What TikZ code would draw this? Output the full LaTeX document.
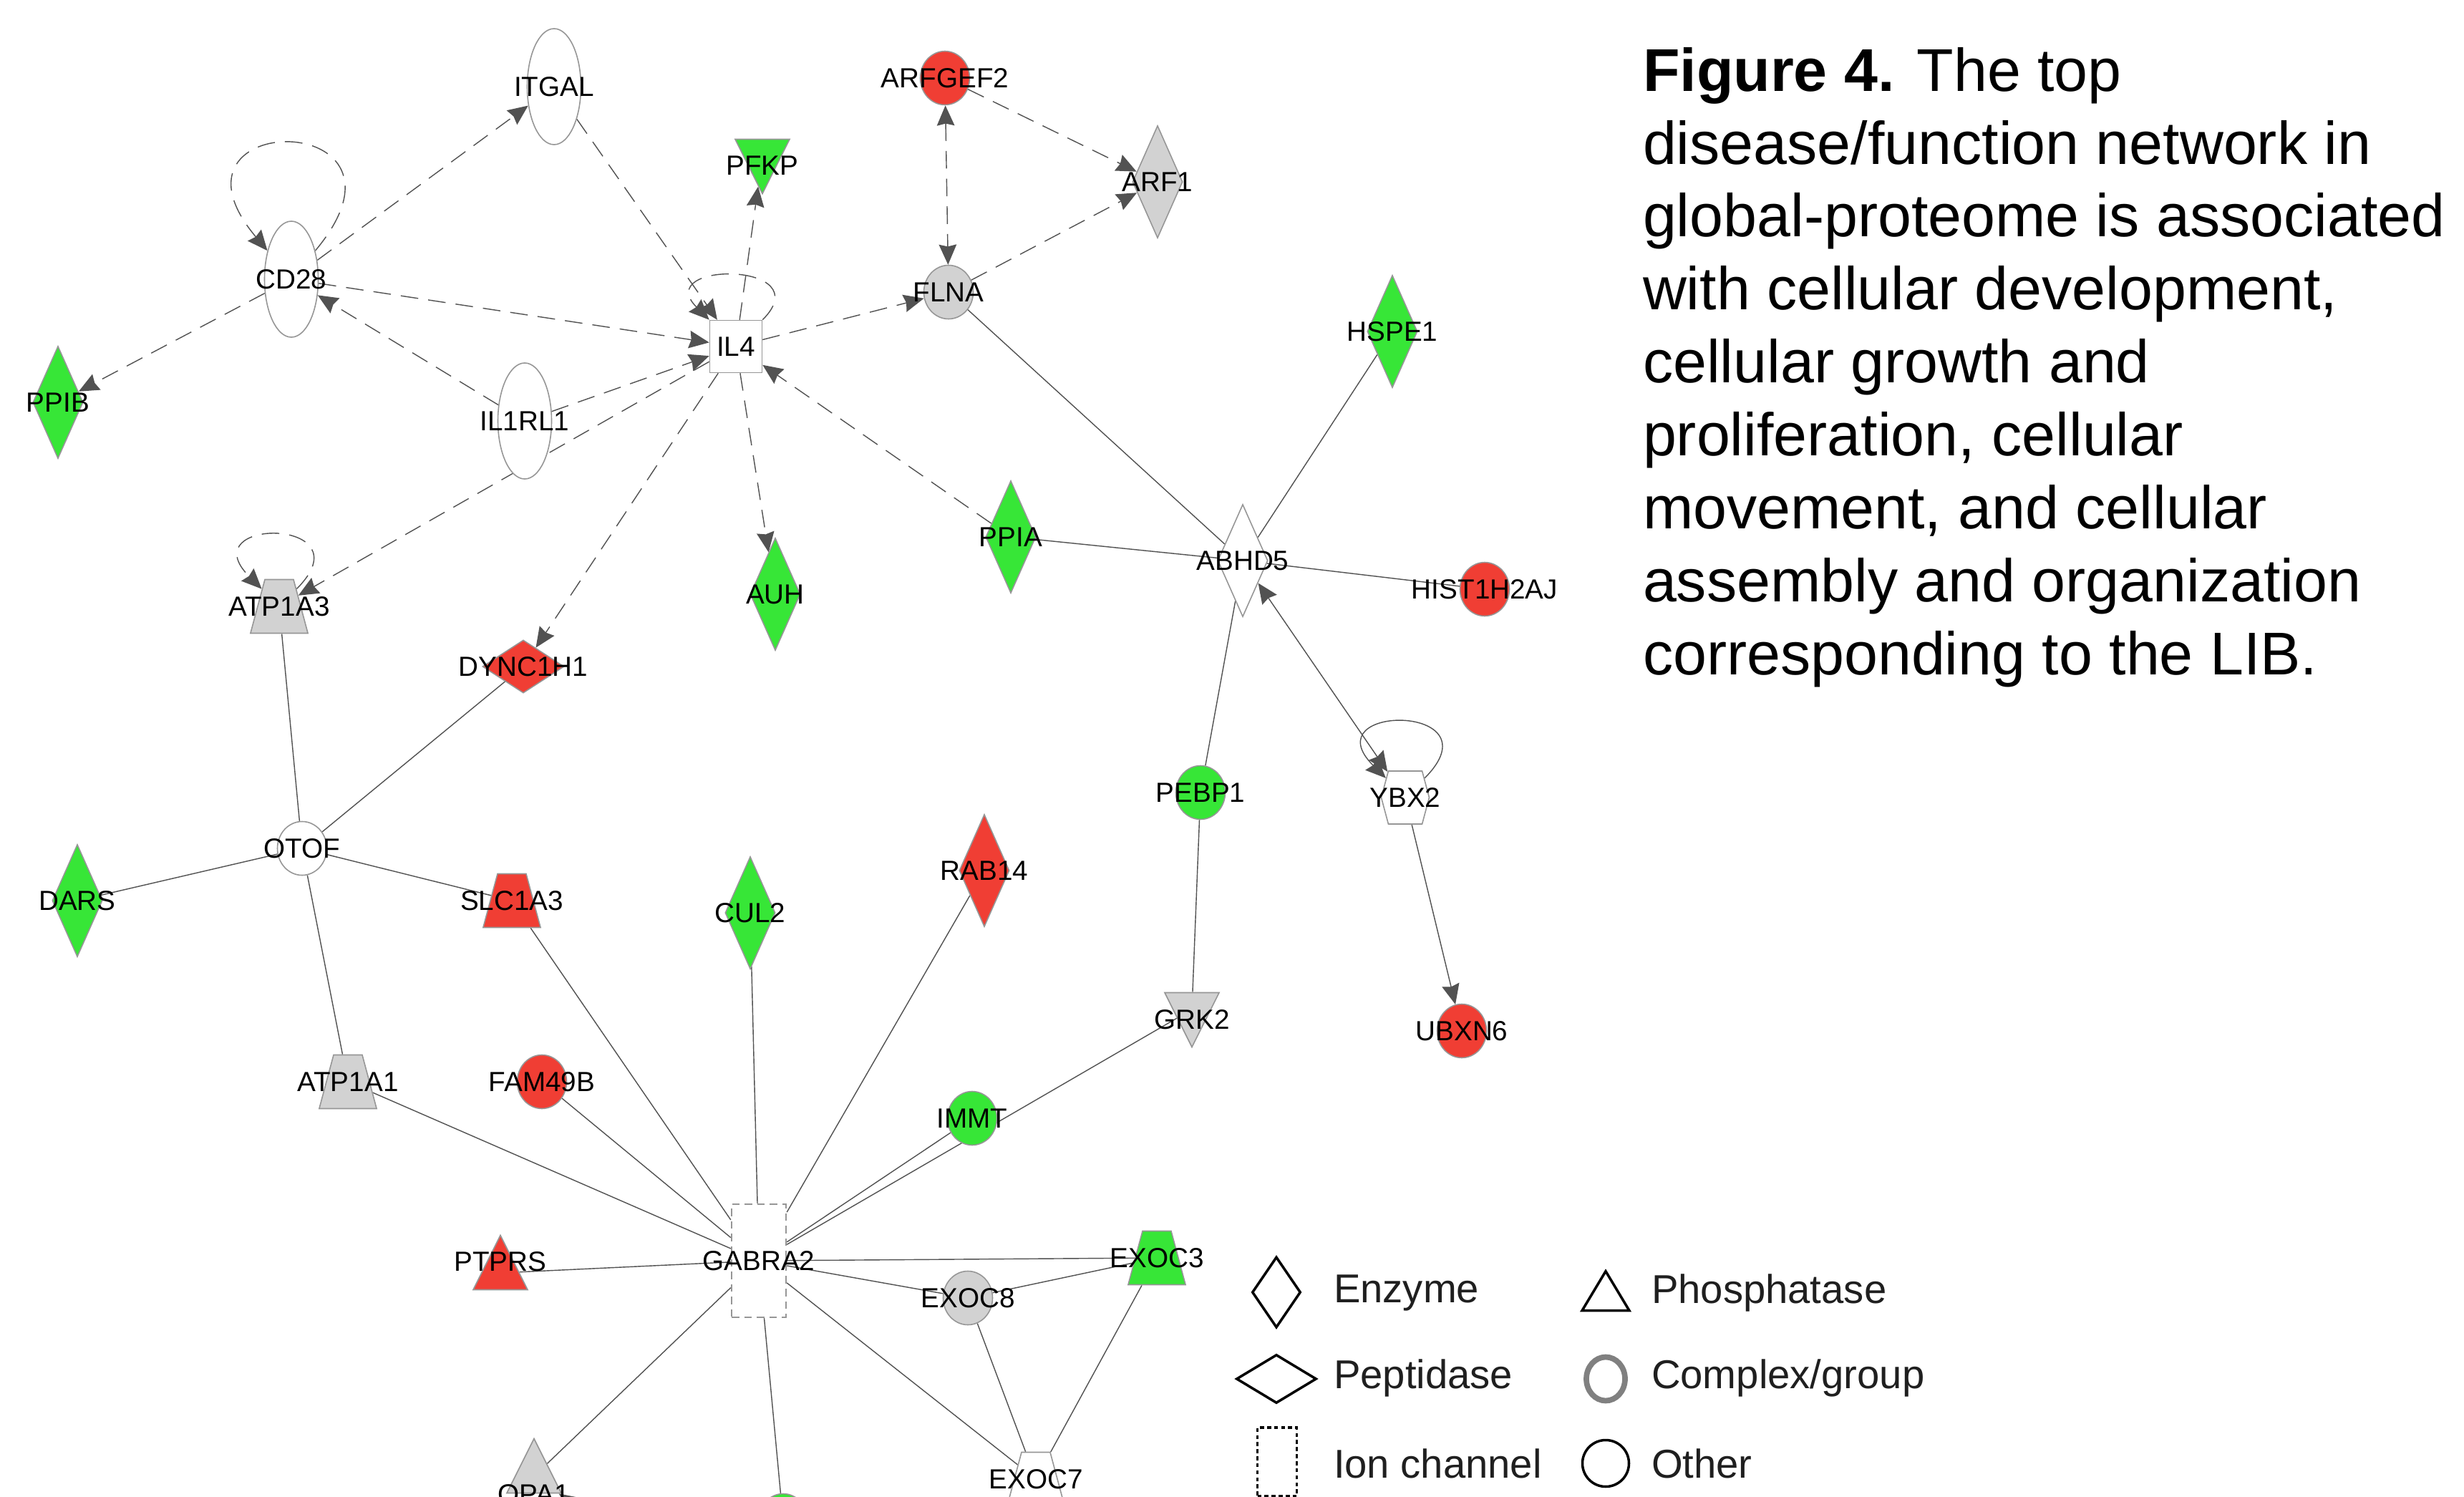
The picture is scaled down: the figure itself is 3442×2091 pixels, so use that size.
\documentclass[tikz,border=0pt]{standalone}
\usepackage{fontspec}
\setmainfont{Liberation Sans}
\usetikzlibrary{arrows.meta,shapes.geometric,shapes.symbols,backgrounds}
\definecolor{upred}{RGB}{240,62,52}
\definecolor{downgreen}{RGB}{55,230,55}
\definecolor{nogrey}{RGB}{210,210,210}
\definecolor{linegrey}{RGB}{82,82,82}
\definecolor{rimgrey}{RGB}{150,150,150}

\begin{document}
\begin{tikzpicture}[x=0.1mm,y=0.1mm,>={Stealth[length=8pt,width=7pt,inset=0.8pt]},line width=1.15pt]
\tikzstyle{every label}=[font=\fontsize{11}{13}\selectfont,inner sep=0pt,text=black]
\tikzstyle{mol}=[draw=rimgrey,line width=0.45pt,inner sep=0pt,fill=white]
\tikzstyle{enzyme}=[mol,diamond,minimum width=7mm,minimum height=15.7mm]
\tikzstyle{peptid}=[mol,diamond,minimum width=11.4mm,minimum height=7.4mm]
\tikzstyle{receptor}=[mol,ellipse,minimum width=7.5mm,minimum height=16.2mm]
\tikzstyle{other}=[mol,ellipse,minimum width=6.9mm,minimum height=7.5mm]
\tikzstyle{cyto}=[mol,rectangle,minimum width=7.3mm,minimum height=7.3mm]
\tikzstyle{ionch}=[mol,rectangle,dash pattern=on 3pt off 2pt,line width=0.7pt,minimum width=7.6mm,minimum height=15.8mm]
\tikzstyle{kinase}=[mol,isosceles triangle,shape border rotate=-90,isosceles triangle stretches,minimum width=7.6mm,minimum height=7.6mm]
\tikzstyle{phosph}=[mol,isosceles triangle,shape border rotate=90,isosceles triangle stretches,minimum width=7.6mm,minimum height=7.6mm]
\tikzstyle{transp}=[mol,trapezium,trapezium left angle=75,trapezium right angle=75,inner xsep=2mm,inner ysep=3.75mm]
\tikzstyle{translreg}=[mol,signal,signal to=east and west,signal pointer angle=150,minimum width=6.7mm,minimum height=7.4mm]
\tikzstyle{dashedge}=[draw=linegrey,dash pattern=on 7pt off 4pt]
\tikzstyle{solidedge}=[draw=linegrey]
\tikzstyle{legshape}=[draw=black,line width=1pt,inner sep=0pt,fill=white]
\tikzstyle{legtext}=[anchor=west,inner sep=0pt,font=\fontsize{16}{19}\selectfont,text=black!88]

\useasboundingbox (0,0) rectangle (3442,-2091);
\begin{scope}[on background layer]
\fill[white] (0,0) rectangle (3442,-2091);
\end{scope}

\node[receptor,label=center:ITGAL] (itgal) at (774,-121) {};
\node[receptor,label=center:CD28] (cd28) at (407,-390) {};
\node[receptor,label=center:IL1RL1] (il1rl1) at (733,-588) {};
\node[enzyme,fill=downgreen,label=center:PPIB] (ppib) at (81,-562) {};
\node[kinase,fill=downgreen,label={[yshift=-1.35mm]center:PFKP}] (pfkp) at (1065,-218) {};
\node[other,fill=upred,label=center:ARFGEF2] (arfgef2) at (1320,-109) {};
\node[enzyme,fill=nogrey,label=center:ARF1] (arf1) at (1617,-254) {};
\node[other,fill=nogrey,label=center:FLNA] (flna) at (1325,-408) {};
\node[cyto,label=center:IL4] (il4) at (1028,-484) {};
\node[enzyme,fill=downgreen,label=center:HSPE1] (hspe1) at (1945,-463) {};
\node[transp,fill=nogrey,label=center:ATP1A3] (atp1a3) at (390,-847) {};
\node[peptid,fill=upred,label=center:DYNC1H1] (dync1h1) at (731,-931) {};
\node[enzyme,fill=downgreen,label=center:AUH] (auh) at (1083,-830) {};
\node[enzyme,fill=downgreen,label=center:PPIA] (ppia) at (1412,-750) {};
\node[enzyme,label=center:ABHD5] (abhd5) at (1736,-783) {};
\node[other,fill=upred,label=center:HIST1H2AJ] (hist1h2aj) at (2074,-823) {};
\node[other,label=center:OTOF] (otof) at (422,-1185) {};
\node[enzyme,fill=downgreen,label=center:DARS] (dars) at (108,-1258) {};
\node[transp,fill=upred,label=center:SLC1A3] (slc1a3) at (715,-1258) {};
\node[enzyme,fill=downgreen,label=center:CUL2] (cul2) at (1048,-1275) {};
\node[enzyme,fill=upred,label=center:RAB14] (rab14) at (1375,-1216) {};
\node[other,fill=downgreen,label=center:PEBP1] (pebp1) at (1677,-1107) {};
\node[translreg,label=center:YBX2] (ybx2) at (1963,-1114) {};
\node[kinase,fill=nogrey,label={[yshift=-1.45mm]center:GRK2}] (grk2) at (1665,-1410) {};
\node[other,fill=upred,label=center:UBXN6] (ubxn6) at (2042,-1440) {};
\node[transp,fill=nogrey,label=center:ATP1A1] (atp1a1) at (486,-1511) {};
\node[other,fill=upred,label=center:FAM49B] (fam49b) at (757,-1511) {};
\node[other,fill=downgreen,label=center:IMMT] (immt) at (1358,-1562) {};
\node[phosph,fill=upred,label={[yshift=1.55mm]center:PTPRS}] (ptprs) at (699,-1778) {};
\node[ionch,label=center:GABRA2] (gabra2) at (1060,-1761) {};
\node[transp,fill=downgreen,label=center:EXOC3] (exoc3) at (1616,-1757) {};
\node[other,fill=nogrey,label=center:EXOC8] (exoc8) at (1352,-1813) {};
\node[phosph,fill=nogrey,label={[yshift=-2.55mm]center:OPA1}] (opa1) at (746,-2062) {};
\node[transp,label=center:EXOC7] (exoc7) at (1447,-2066) {};
\node[other,fill=downgreen] (cutgreen) at (1094,-2124) {};
\coordinate (opaout) at (900,-2170);

\begin{scope}[on background layer]
\path
(cd28) edge[dashedge,->] (itgal)
(cd28) edge[dashedge,->] (ppib)
(cd28) edge[dashedge,->] (il4)
(cd28) edge[dashedge,->,out=50,in=130,looseness=10] (cd28)
(il1rl1) edge[dashedge,->] (cd28)
(itgal) edge[dashedge,->] (il4)
(il1rl1) edge[dashedge,->] (il4)
(il4) edge[dashedge,->,out=45,in=135,looseness=4] (il4)
(il4) edge[dashedge,->] (pfkp)
(il4) edge[dashedge,->] (flna)
(il4) edge[dashedge,->] (auh)
(il4) edge[dashedge,->] (dync1h1)
(il4) edge[dashedge,->] (atp1a3)
(ppia) edge[dashedge,->] (il4)
(atp1a3) edge[dashedge,->,out=45,in=135,looseness=7.5] (atp1a3)
(arfgef2) edge[dashedge,<->] (flna)
(arfgef2) edge[dashedge,->] (arf1)
(flna) edge[dashedge,->] (arf1)
(flna) edge[solidedge] (abhd5)
(hspe1) edge[solidedge] (abhd5)
(ppia) edge[solidedge] (abhd5)
(abhd5) edge[solidedge] (hist1h2aj)
(abhd5) edge[solidedge] (pebp1)
(abhd5) edge[solidedge,<->] (ybx2)
(ybx2) edge[solidedge,->,out=45,in=135,looseness=7] (ybx2)
(ybx2) edge[solidedge,->] (ubxn6)
(pebp1) edge[solidedge] (grk2)
(gabra2) edge[solidedge] (grk2)
(gabra2) edge[solidedge] (immt)
(atp1a3) edge[solidedge] (otof)
(dync1h1) edge[solidedge] (otof)
(dars) edge[solidedge] (otof)
(otof) edge[solidedge] (slc1a3)
(otof) edge[solidedge] (atp1a1)
(atp1a1) edge[solidedge] (gabra2)
(fam49b) edge[solidedge] (gabra2)
(slc1a3) edge[solidedge] (gabra2)
(cul2) edge[solidedge] (gabra2)
(rab14) edge[solidedge] (gabra2)
(ptprs) edge[solidedge] (gabra2)
(gabra2) edge[solidedge] (exoc3)
(gabra2) edge[solidedge] (exoc8)
(exoc8) edge[solidedge] (exoc3)
(gabra2) edge[solidedge] (opa1)
(gabra2) edge[solidedge] (cutgreen)
(gabra2) edge[solidedge] (exoc7)
(exoc8) edge[solidedge] (exoc7)
(exoc3) edge[solidedge] (exoc7)
(opaout) edge[solidedge,->] (opa1)
;
\end{scope}

\node[legshape,diamond,minimum width=6.8mm,minimum height=9.9mm] (legenz) at (1783,-1805) {};
\node[legshape,diamond,minimum width=11.2mm,minimum height=6.8mm] (legpep) at (1783,-1926) {};
\node[legshape,rectangle,dash pattern=on 1.6pt off 1.2pt,minimum width=5.5mm,minimum height=9.6mm] (legion) at (1784,-2042) {};
\node[legshape,isosceles triangle,shape border rotate=90,isosceles triangle stretches,minimum width=6.6mm,minimum height=5.5mm] (legpho) at (2243,-1812) {};
\node[legshape,ellipse,draw=gray,line width=2.2pt,minimum width=5.4mm,minimum height=6.1mm] (legcpx) at (2243,-1926) {};
\node[legshape,circle,minimum size=6.5mm] (legoth) at (2243,-2044) {};
\node[legtext] (legenztxt) at (1861,-1806) {Enzyme};
\node[legtext] (legpeptxt) at (1861,-1925) {Peptidase};
\node[legtext] (legiontxt) at (1861,-2044) {Ion channel};
\node[legtext] (legphotxt) at (2305,-1806) {Phosphatase};
\node[legtext] (legcpxtxt) at (2305,-1925) {Complex/group};
\node[legtext] (legothtxt) at (2305,-2044) {Other};

\node[anchor=north west,align=left,inner sep=0pt,font=\fontsize{24}{29}\selectfont] (caption) at (2293,-64)
{\textbf{Figure 4.} The top\\disease/function network in\\global-proteome is associated\\with cellular development,\\cellular growth and\\proliferation, cellular\\movement, and cellular\\assembly and organization\\corresponding to the LIB.};
\end{tikzpicture}
\end{document}
